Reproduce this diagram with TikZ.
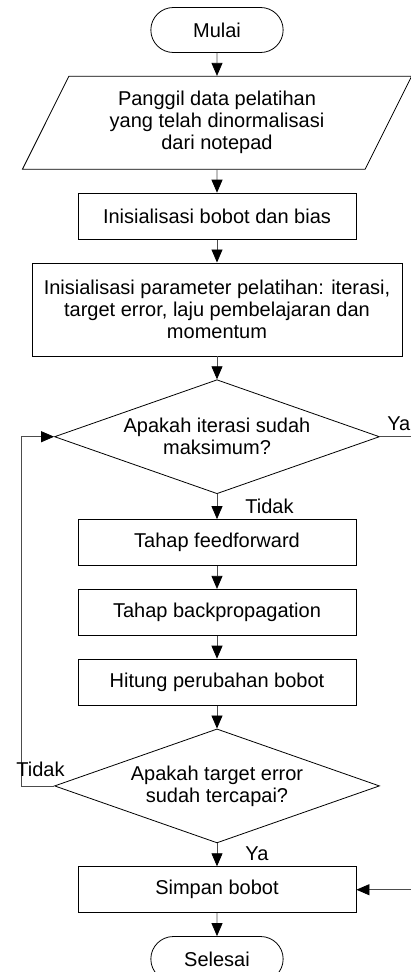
\documentclass[tikz,border=0pt]{standalone}
\usepackage{fontspec}
\setmainfont{Liberation Sans}
\usetikzlibrary{positioning,shapes.geometric,shapes.misc,arrows.meta}

\tikzset{
    proses/.style={draw, rectangle, minimum width=278pt, minimum height=46pt, align=center},
    keputusan/.style={draw, diamond, aspect=2.85, minimum width=325pt, minimum height=114pt, inner sep=0pt, align=center},
    terminal/.style={draw, rounded rectangle, minimum width=139pt, minimum height=45pt},
    masukan/.style={draw, trapezium, trapezium left angle=63.4, trapezium right angle=116.6, minimum width=363pt, minimum height=93pt, align=center},
    panah/.style={draw=black!70, -{Triangle[length=13pt, width=11pt, black]}},
    ket/.style={anchor=base west, inner sep=0pt}
}

\begin{document}
\begin{tikzpicture}[every node/.style={node distance=23pt, line width=0.8pt, font=\fontsize{20}{22}\selectfont}, line width=0.8pt]
    \useasboundingbox (-217pt,30pt) rectangle (194pt,-942pt);

    \node[terminal] (mulai) {Mulai};
    \node[masukan, below=of mulai] (panggil) {Panggil data pelatihan\\yang telah dinormalisasi\\dari notepad};
    \node[proses, below=of panggil] (initbobot) {Inisialisasi bobot dan bias};
    \node[proses, below=of initbobot, minimum width=370pt, minimum height=93pt] (initparam) {Inisialisasi parameter pelatihan: iterasi,\\target error, laju pembelajaran dan\\momentum};
    \node[keputusan, below=of initparam] (cekiter) {Apakah iterasi sudah\\maksimum?};
    \node[proses, below=25pt of cekiter] (ff) {Tahap feedforward};
    \node[proses, below=of ff] (bp) {Tahap backpropagation};
    \node[proses, below=of bp] (hitung) {Hitung perubahan bobot};
    \node[keputusan, below=of hitung] (cekerr) {Apakah target error\\sudah tercapai?};
    \node[proses, below=of cekerr] (simpan) {Simpan bobot};
    \node[terminal, below=of simpan] (selesai) {Selesai};

    \coordinate (kiri) at (-196pt,0);
    \coordinate (kanan) at (215pt,0);

    \draw[panah] (mulai) -- (panggil);
    \draw[panah] (panggil) -- (initbobot);
    \draw[panah] (initbobot) -- (initparam);
    \draw[panah] (initparam) -- (cekiter);
    \draw[panah] (cekiter) -- node[ket, pos=1, xshift=28pt, yshift=6pt] {Tidak} (ff);
    \draw[panah] (ff) -- (bp);
    \draw[panah] (bp) -- (hitung);
    \draw[panah] (hitung) -- (cekerr);
    \draw[panah] (cekerr) -- node[ket, pos=1, xshift=28pt, yshift=6pt] {Ya} (simpan);
    \draw[panah] (simpan) -- (selesai);

    % loop kembali ke cek iterasi
    \draw[panah] (cekerr.west) -- node[ket, pos=1, xshift=-5pt, yshift=9pt] {Tidak} (cekerr.west -| kiri) |- (cekiter.west);
    % iterasi maksimum langsung simpan
    \draw[panah] (cekiter.east) -- node[ket, pos=0, xshift=7pt, yshift=6pt] {Ya} (cekiter.east -| kanan) |- (simpan.east);
\end{tikzpicture}
\end{document}
